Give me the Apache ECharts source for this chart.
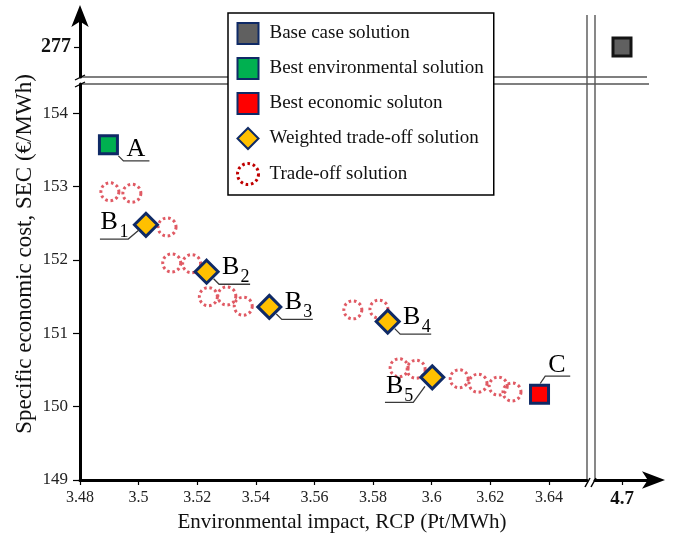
<!DOCTYPE html>
<html>
<head>
<meta charset="utf-8">
<script src="https://cdn.jsdelivr.net/npm/echarts@6/dist/echarts.min.js"></script>
<style>
  html, body { margin: 0; padding: 0; background: #fff; }
  #chart { width: 674px; height: 539px; }
</style>
</head>
<body>
<div id="chart"></div>
<script>
// ---- Solutions: environmental impact RCP (Pt/MWh) vs specific economic cost SEC (€/MWh) ----
const tradeOffRCP = [3.4902, 3.4977, 3.5097, 3.5113, 3.5181, 3.5238, 3.5301, 3.5357,
                     3.5731, 3.5820, 3.5889, 3.5947, 3.6094, 3.6158, 3.6227, 3.6274];
const tradeOffSEC = [152.93, 152.91, 152.45, 151.96, 151.95, 151.50, 151.51, 151.37,
                     151.32, 151.33, 150.53, 150.51, 150.38, 150.32, 150.28, 150.20];

const weightedRCP = [3.5025, 3.5232, 3.5446, 3.5850, 3.6002];
const weightedSEC = [152.48, 151.84, 151.36, 151.16, 150.40];
const weightedTags = ['1', '2', '3', '4', '5'];

const bestEnvironmental = [3.4897, 153.57];   // A
const bestEconomic = [3.6368, 150.17];        // C
const baseCase = [4.7, 277];

// tick values of the broken axes
const xTicksMain = [3.48, 3.5, 3.52, 3.54, 3.56, 3.58, 3.6, 3.62, 3.64];
const xTicksFar = [4.7];
const yTicksMain = [149, 150, 151, 152, 153, 154];
const yTicksFar = [277];

// ---- layout of the four panels (pixels) ----
const LEFT = 80, XBREAK_L = 587, XBREAK_R = 595, XEND = 649;
const TOP = 17, YBREAK_T = 77, YBREAK_B = 84, BOTTOM = 480;

const FONT = '"Liberation Serif", "Times New Roman", serif';

// annotation leader lines and letters, offsets in px from the marker centre
const callouts = [
  { letter: 'A', sub: '', pt: bestEnvironmental,
    line: [[10, 11], [15, 16], [41, 16]], text: [27.5, 4], subAt: null },
  ...weightedTags.map((t, i) => ({ letter: 'B', sub: t, pt: [weightedRCP[i], weightedSEC[i]] })),
  { letter: 'C', sub: '', pt: bestEconomic,
    line: [[0.7, -10.7], [5.7, -18], [30.7, -18]], text: [17.4, -29], subAt: null }
];
// placement of each B label
const rightSide = { line: [[7, 7], [12.5, 12.5], [43.5, 12.5]], text: [24, -4.5], subAt: [38.5, 5.5] };
callouts[1].line = [[-6.7, 5], [-17.7, 14.3], [-46, 14.3]];
callouts[1].text = [-36.8, -3]; callouts[1].subAt = [-22, 7.8];
[2, 3, 4].forEach(i => Object.assign(callouts[i], rightSide));
callouts[5].line = [[-7.3, 9], [-19, 25], [-47.3, 25]];
callouts[5].text = [-37.6, 9]; callouts[5].subAt = [-23.5, 19];

const navy = '#0f2a66';
const dotted = [2.6, 2.8];

const chart = echarts.init(document.getElementById('chart'), null, { renderer: 'canvas' });

const axisLineStyle = { color: '#000', width: 3 };
const hiddenAxis = { show: false };

function xAxisBase(grid, min, max) {
  return {
    type: 'value', gridIndex: grid, min: min, max: max,
    splitLine: { show: false }, axisLine: { onZero: false, lineStyle: axisLineStyle }
  };
}

const option = {
  backgroundColor: '#fff',
  animation: false,
  grid: [
    { left: LEFT, top: YBREAK_B, width: XBREAK_L - LEFT, height: BOTTOM - YBREAK_B },
    { left: XBREAK_R, top: YBREAK_B, width: XEND - XBREAK_R, height: BOTTOM - YBREAK_B },
    { left: LEFT, top: TOP, width: XBREAK_L - LEFT, height: YBREAK_T - TOP },
    { left: XBREAK_R, top: TOP, width: XEND - XBREAK_R, height: YBREAK_T - TOP }
  ],
  xAxis: [
    Object.assign(xAxisBase(0, 3.48, 3.653), {
      axisTick: { show: true, length: 5, customValues: xTicksMain, lineStyle: { color: '#000', width: 1.2 } },
      axisLabel: { customValues: xTicksMain, margin: 10, fontFamily: FONT, fontSize: 16, color: '#222' }
    }),
    Object.assign(xAxisBase(1, 4.6, 4.8), {
      axisLine: { onZero: false, lineStyle: axisLineStyle, symbol: ['none', 'arrow'], symbolSize: [13, 23], symbolOffset: [0, 16] },
      axisTick: { show: true, length: 5, customValues: xTicksFar, lineStyle: { color: '#000', width: 1.2 } },
      axisLabel: { customValues: xTicksFar, margin: 10, fontFamily: FONT, fontSize: 19, fontWeight: 'bold', color: '#111' }
    }),
    Object.assign(xAxisBase(2, 3.48, 3.653), hiddenAxis),
    Object.assign(xAxisBase(3, 4.6, 4.8), hiddenAxis)
  ],
  yAxis: [
    {
      type: 'value', gridIndex: 0, min: 149, max: 154.4,
      splitLine: { show: false },
      axisLine: { show: true, onZero: false, lineStyle: axisLineStyle },
      axisTick: { show: true, length: 7, customValues: yTicksMain, lineStyle: { color: '#000', width: 1.2 } },
      axisLabel: { customValues: yTicksMain, margin: 12, fontFamily: FONT, fontSize: 17, color: '#222' }
    },
    { type: 'value', gridIndex: 1, min: 149, max: 154.4, show: false },
    {
      type: 'value', gridIndex: 2, min: 274, max: 280,
      splitLine: { show: false },
      axisLine: { show: true, onZero: false, lineStyle: axisLineStyle, symbol: ['none', 'arrow'], symbolSize: [13, 22], symbolOffset: [0, 12] },
      axisTick: { show: true, length: 6, customValues: yTicksFar, lineStyle: { color: '#000', width: 1.2 } },
      axisLabel: { customValues: yTicksFar, margin: 9, fontFamily: FONT, fontSize: 20, fontWeight: 'bold', color: '#111' }
    },
    { type: 'value', gridIndex: 3, min: 274, max: 280, show: false }
  ],
  legend: {
    orient: 'vertical', left: 228, top: 13,
    padding: [9, 10, 9, 8],
    backgroundColor: '#fff', borderColor: '#000', borderWidth: 1.5,
    itemWidth: 21, itemHeight: 21, itemGap: 12,
    selectedMode: false,
    textStyle: { fontFamily: FONT, fontSize: 19, lineHeight: 21, color: '#111', padding: [0, 0, 0, 6] },
    data: [
      { name: 'Base case solution', itemStyle: { borderColor: navy } },
      { name: 'Best environmental solution' },
      { name: 'Best economic soluton' },
      { name: 'Weighted trade-off solution' },
      { name: 'Trade-off solution', itemStyle: { borderColor: '#c00000', borderType: dotted, borderWidth: 3 } }
    ]
  },
  series: [
    {
      name: 'Trade-off solution', type: 'scatter', xAxisIndex: 0, yAxisIndex: 0, z: 2,
      symbol: 'circle', symbolSize: 18,
      itemStyle: { color: 'rgba(255,255,255,0)', borderColor: '#e05a64', borderWidth: 3, borderType: dotted, opacity: 1 },
      data: tradeOffRCP.map((x, i) => [x, tradeOffSEC[i]])
    },
    {
      name: 'Weighted trade-off solution', type: 'scatter', xAxisIndex: 0, yAxisIndex: 0, z: 3,
      symbol: 'diamond', symbolSize: 23,
      itemStyle: { color: '#ffc000', borderColor: navy, borderWidth: 3, opacity: 1 },
      data: weightedRCP.map((x, i) => [x, weightedSEC[i]])
    },
    {
      name: 'Best environmental solution', type: 'scatter', xAxisIndex: 0, yAxisIndex: 0, z: 3,
      symbol: 'rect', symbolSize: 18,
      itemStyle: { color: '#00b050', borderColor: navy, borderWidth: 3, opacity: 1 },
      data: [bestEnvironmental]
    },
    {
      name: 'Best economic soluton', type: 'scatter', xAxisIndex: 0, yAxisIndex: 0, z: 3,
      symbol: 'rect', symbolSize: 18,
      itemStyle: { color: '#ff0000', borderColor: navy, borderWidth: 3, opacity: 1 },
      data: [bestEconomic]
    },
    {
      name: 'Base case solution', type: 'scatter', xAxisIndex: 3, yAxisIndex: 3, z: 3,
      symbol: 'rect', symbolSize: 18,
      itemStyle: { color: '#606060', borderColor: '#141414', borderWidth: 3, opacity: 1 },
      data: [baseCase]
    },
    {
      // letters A, B1..B5, C with their leader lines
      type: 'custom', xAxisIndex: 0, yAxisIndex: 0, z: 5, silent: true, clip: false,
      data: callouts.map((c, i) => [c.pt[0], c.pt[1], i]),
      encode: { x: 0, y: 1 },
      renderItem: function (params, api) {
        const c = callouts[api.value(2)];
        const p = api.coord([api.value(0), api.value(1)]);
        const children = [
          {
            type: 'polyline',
            shape: { points: c.line.map(d => [p[0] + d[0], p[1] + d[1]]) },
            style: { stroke: '#3a3a3a', lineWidth: 1.3, fill: 'none' }
          },
          {
            type: 'text', x: p[0] + c.text[0], y: p[1] + c.text[1],
            style: { text: c.letter, font: '26px ' + FONT, fill: '#000', textAlign: 'center', textVerticalAlign: 'middle' }
          }
        ];
        if (c.sub) {
          children.push({
            type: 'text', x: p[0] + c.subAt[0], y: p[1] + c.subAt[1],
            style: { text: c.sub, font: '18px ' + FONT, fill: '#000', textAlign: 'center', textVerticalAlign: 'middle' }
          });
        }
        return { type: 'group', children: children };
      }
    }
  ],
  graphic: [
    // axis titles
    {
      type: 'text', x: 25, y: 254, rotation: Math.PI / 2,
      style: { text: 'Specific economic cost, SEC (€/MWh)', font: '23px ' + FONT, fill: '#111', textAlign: 'center', textVerticalAlign: 'middle' }
    },
    {
      type: 'text', x: 342, y: 522,
      style: { text: 'Environmental impact, RCP (Pt/MWh)', font: '21px ' + FONT, fill: '#111', textAlign: 'center', textVerticalAlign: 'middle' }
    },
    // horizontal break band
    { type: 'line', shape: { x1: LEFT, y1: YBREAK_T, x2: XEND - 2, y2: YBREAK_T }, style: { stroke: '#555', lineWidth: 1.4 } },
    { type: 'line', shape: { x1: LEFT, y1: YBREAK_B, x2: XEND, y2: YBREAK_B }, style: { stroke: '#555', lineWidth: 1.4 } },
    // vertical break band
    { type: 'line', shape: { x1: XBREAK_L, y1: 15, x2: XBREAK_L, y2: BOTTOM }, style: { stroke: '#555', lineWidth: 1.4 } },
    { type: 'line', shape: { x1: XBREAK_R, y1: 15, x2: XBREAK_R, y2: BOTTOM }, style: { stroke: '#555', lineWidth: 1.4 } },
    // break slashes on the axes
    { type: 'line', shape: { x1: 75, y1: 80, x2: 85, y2: 75 }, style: { stroke: '#000', lineWidth: 1.3 } },
    { type: 'line', shape: { x1: 75, y1: 87, x2: 85, y2: 82 }, style: { stroke: '#000', lineWidth: 1.3 } },
    { type: 'line', shape: { x1: 585, y1: 487, x2: 590, y2: 478 }, style: { stroke: '#000', lineWidth: 1.5 } },
    { type: 'line', shape: { x1: 591, y1: 487, x2: 596, y2: 478 }, style: { stroke: '#000', lineWidth: 1.5 } }
  ]
};

chart.setOption(option);
</script>
</body>
</html>
